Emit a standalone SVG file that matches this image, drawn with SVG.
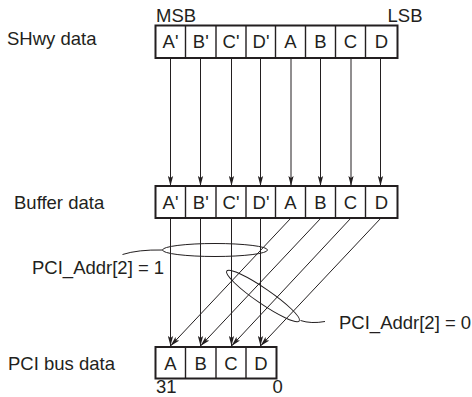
<svg xmlns="http://www.w3.org/2000/svg" width="472" height="397" viewBox="0 0 472 397">
<defs>
<style>
text{font-family:"Liberation Sans",Arial,sans-serif;font-size:18.5px;fill:#231f20}
.c{text-anchor:middle}
.box{fill:#fff;stroke:#231f20;stroke-width:2}
.div{stroke:#231f20;stroke-width:1.4;fill:none}
.ln{stroke:#231f20;stroke-width:1;fill:none}
</style>
<marker id="ah" viewBox="0 0 10 6" refX="10" refY="3" markerWidth="10" markerHeight="6" markerUnits="userSpaceOnUse" orient="auto">
<path d="M0,0.4 L10,3 L0,5.6 L2,3 z" fill="#231f20"/>
</marker>
</defs>
<rect width="472" height="397" fill="#fff"/>

<g id="connectors">
<g class="ln" marker-end="url(#ah)">
<line x1="170.5" y1="58" x2="170.5" y2="186"/>
<line x1="200.5" y1="58" x2="200.5" y2="186"/>
<line x1="231.5" y1="58" x2="231.5" y2="186"/>
<line x1="260.5" y1="58" x2="260.5" y2="186"/>
<line x1="291" y1="58" x2="291" y2="186"/>
<line x1="320.5" y1="58" x2="320.5" y2="186"/>
<line x1="351" y1="58" x2="351" y2="186"/>
<line x1="380.5" y1="58" x2="380.5" y2="186"/>
<line x1="170.5" y1="218" x2="170.5" y2="346"/>
<line x1="200.5" y1="218" x2="200.5" y2="346"/>
<line x1="231.5" y1="218" x2="231.5" y2="346"/>
<line x1="260.5" y1="218" x2="260.5" y2="346"/>
<line x1="291" y1="218" x2="170.5" y2="346"/>
<line x1="321" y1="218" x2="200.5" y2="346"/>
<line x1="351" y1="218" x2="231.5" y2="346"/>
<line x1="381" y1="218" x2="260.5" y2="346"/>
</g>
</g>

<g id="shwy">
<text x="7" y="45">SHwy data</text>
<text x="156" y="21.5">MSB</text>
<text x="387.5" y="21.5">LSB</text>
<rect class="box" x="155.5" y="25.5" width="242" height="32.5"/>
<path class="div" d="M185.5,25.5V58M216,25.5V58M246,25.5V58M275.5,25.5V58M305.5,25.5V58M335.5,25.5V58M365.5,25.5V58"/>
<text class="c" x="170.5" y="48">A'</text>
<text class="c" x="200.75" y="48">B'</text>
<text class="c" x="231" y="48">C'</text>
<text class="c" x="261" y="48">D'</text>
<text class="c" x="290.5" y="48">A</text>
<text class="c" x="320.5" y="48">B</text>
<text class="c" x="350.5" y="48">C</text>
<text class="c" x="381.5" y="48">D</text>
</g>

<g id="buffer">
<text x="14" y="209">Buffer data</text>
<rect class="box" x="155.5" y="186" width="242" height="32"/>
<path class="div" d="M185.5,186V218M216,186V218M246,186V218M275.5,186V218M305.5,186V218M335.5,186V218M365.5,186V218"/>
<text class="c" x="170.5" y="208.5">A'</text>
<text class="c" x="200.75" y="208.5">B'</text>
<text class="c" x="231" y="208.5">C'</text>
<text class="c" x="261" y="208.5">D'</text>
<text class="c" x="290.5" y="208.5">A</text>
<text class="c" x="320.5" y="208.5">B</text>
<text class="c" x="350.5" y="208.5">C</text>
<text class="c" x="381.5" y="208.5">D</text>
</g>

<g id="pci">
<text x="8" y="370">PCI bus data</text>
<rect class="box" x="155.5" y="347" width="121" height="31.5"/>
<path class="div" d="M185.5,347V378.5M216,347V378.5M246,347V378.5"/>
<text class="c" x="170.5" y="369.5">A</text>
<text class="c" x="200.75" y="369.5">B</text>
<text class="c" x="231" y="369.5">C</text>
<text class="c" x="261" y="369.5">D</text>
<text x="156" y="393">31</text>
<text x="272.5" y="393">0</text>
</g>

<g id="addr1">
<ellipse class="ln" cx="215" cy="250" rx="52.5" ry="6.5"/>
<path class="ln" d="M122.5,254.5 Q138,249.5 162.5,250"/>
<text x="32" y="273.5">PCI_Addr[2] = 1</text>
</g>

<g id="addr0">
<ellipse class="ln" cx="263" cy="296" rx="44" ry="7.5" transform="rotate(34.5 263 296)"/>
<path class="ln" d="M300.5,320.5 Q311,324 325,321.5"/>
<text x="339" y="328.5">PCI_Addr[2] = 0</text>
</g>
</svg>
